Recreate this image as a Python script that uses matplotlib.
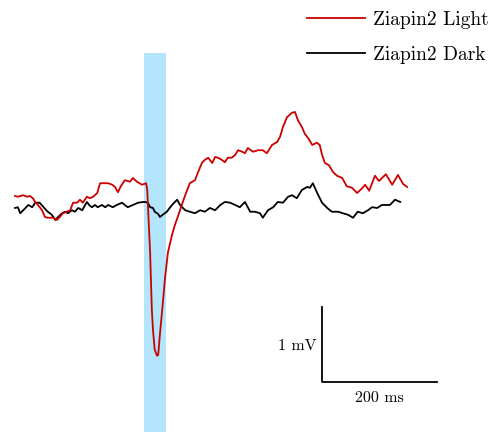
import matplotlib
matplotlib.use("Agg")
import matplotlib.pyplot as plt

plt.rcParams['font.family'] = ['cmr10', 'DejaVu Serif']

# Ziapin2 Light trace (time in ms, voltage in mV)
light_t = [0, 5, 14, 21, 26, 31, 35, 40, 47, 52, 57, 66, 73, 78, 83, 90, 96, 101, 108, 113,
           118, 125, 130, 136, 143, 148, 153, 162, 169, 174, 179, 184, 191, 200, 205, 212, 221, 228,
           230, 231, 235, 238, 240, 243, 247, 249, 252, 256, 261, 266, 273, 278, 283, 290, 296,
           304, 313, 318, 325, 330, 336, 343, 348, 353, 360, 365, 370, 377, 383, 388, 395, 400,
           405, 414, 423, 431, 438, 447, 456, 461, 466, 473, 482, 487, 492, 499, 504, 510, 517,
           525, 530, 534, 539, 546, 553, 560, 569, 577, 586, 595, 602, 609, 616, 626, 633, 645,
           656, 666, 675, 682]
light_v = [0.12, 0.11, 0.13, 0.11, 0.12, 0.09, 0.04, 0.00, -0.07, -0.16, -0.17, -0.17, -0.20,
           -0.16, -0.11, -0.09, -0.07, 0.03, 0.03, 0.07, 0.03, 0.11, 0.09, 0.11, 0.16, 0.29, 0.29,
           0.29, 0.27, 0.24, 0.17, 0.25, 0.33, 0.31, 0.36, 0.31, 0.27, 0.29, 0.20, 0.03, -0.64,
           -1.40, -1.67, -1.93, -2.01, -2.00, -1.73, -1.40, -0.97, -0.63, -0.40, -0.27, -0.16,
           0.00, 0.13, 0.29, 0.33, 0.43, 0.56, 0.60, 0.63, 0.56, 0.64, 0.63, 0.60, 0.57, 0.63,
           0.63, 0.67, 0.73, 0.71, 0.69, 0.76, 0.71, 0.73, 0.73, 0.69, 0.80, 0.84, 0.91, 1.04,
           1.17, 1.23, 1.24, 1.13, 1.04, 0.95, 0.89, 0.80, 0.83, 0.80, 0.67, 0.56, 0.53, 0.44,
           0.39, 0.36, 0.25, 0.23, 0.16, 0.21, 0.27, 0.19, 0.39, 0.32, 0.41, 0.27, 0.40, 0.28,
           0.24]

# Ziapin2 Dark trace
dark_t = [0, 5, 9, 17, 23, 30, 35, 43, 52, 57, 64, 70, 75, 82, 87, 92, 99, 104, 110, 117, 122,
          125, 130, 134, 139, 144, 151, 157, 162, 170, 177, 186, 191, 196, 205, 214, 223, 226,
          231, 235, 240, 243, 249, 252, 257, 264, 273, 282, 287, 296, 304, 313, 322, 330, 339,
          348, 357, 365, 374, 383, 391, 400, 409, 417, 426, 431, 440, 449, 457, 466, 475, 482,
          490, 499, 508, 513, 518, 525, 534, 543, 551, 562, 570, 579, 588, 596, 605, 614, 621,
          630, 638, 647, 652, 661, 670]
dark_v = [-0.04, -0.03, -0.11, -0.05, 0.00, -0.03, 0.03, 0.03, -0.05, -0.09, -0.13, -0.20,
          -0.16, -0.11, -0.09, -0.11, -0.07, -0.09, -0.04, -0.07, 0.00, 0.04, -0.01, -0.03, 0.00,
          -0.03, 0.00, -0.03, 0.00, -0.03, 0.00, 0.03, 0.00, -0.03, 0.00, 0.03, 0.04, 0.04, 0.03,
          -0.03, -0.04, -0.09, -0.12, -0.16, -0.13, -0.09, 0.00, 0.07, 0.00, -0.07, -0.09, -0.11,
          -0.07, -0.09, -0.04, -0.07, 0.00, 0.04, 0.03, 0.00, -0.03, 0.04, -0.09, -0.09, -0.11,
          -0.17, -0.07, -0.03, 0.04, 0.03, 0.11, 0.13, 0.09, 0.20, 0.24, 0.23, 0.29, 0.17, 0.03,
          -0.04, -0.09, -0.09, -0.11, -0.13, -0.17, -0.09, -0.11, -0.07, -0.03, -0.04, 0.00,
          0.00, 0.00, 0.07, 0.04]

# light stimulus window (ms) and its top (mV)
stim_start, stim_end, stim_top = 224, 262, 2.03

# scale bar: origin, 200 ms by 1 mV
bar_t0, bar_v0 = 534, -2.36
bar_ms, bar_mv = 200, 1.0

fig = plt.figure(figsize=(4.92, 4.32), dpi=100)
ax = fig.add_axes([0, 0, 1, 1])

ax.fill_betweenx([-3.2, stim_top], stim_start, stim_end, color='#b3e5fc', lw=0, zorder=0)
ax.plot(light_t, light_v, color='#cc0000', lw=1.3, label='Ziapin2 Light', zorder=3)
ax.plot(dark_t, dark_v, color='black', lw=1.3, label='Ziapin2 Dark', zorder=2)

ax.plot([bar_t0, bar_t0, bar_t0 + bar_ms], [bar_v0 + bar_mv, bar_v0, bar_v0],
        color='black', lw=1.3)
ax.text(bar_t0 - 10, bar_v0 + bar_mv / 2 - 0.02, '1 mV', ha='right', va='center', fontsize=11.5)
ax.text(bar_t0 + bar_ms / 2, bar_v0 - 0.12, '200 ms', ha='center', va='top', fontsize=11.5)

ax.legend(loc='upper right', bbox_to_anchor=(1.015, 1.0), frameon=False, fontsize=14,
          handlelength=3.0, handletextpad=0.4, labelspacing=0.88, borderaxespad=0.15)

ax.set_xlim(-26.1, 829.6)
ax.set_ylim(-3.027, 2.733)
ax.axis('off')

fig.savefig('out.png', dpi=100)
